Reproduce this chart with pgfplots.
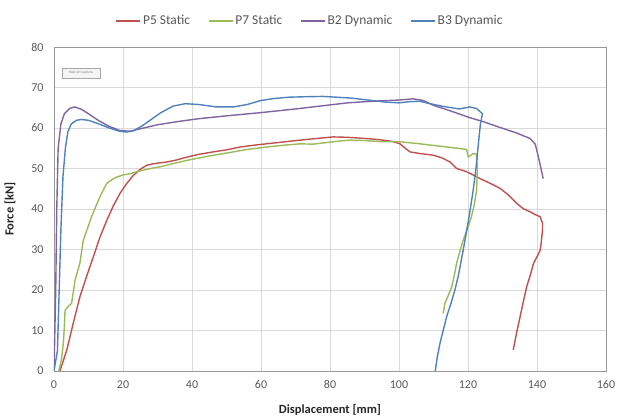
\documentclass[border=0pt]{standalone}
\usepackage{fontspec}
\setmainfont{Carlito}
\usepackage{pgfplots}
\pgfplotsset{compat=1.18}

\definecolor{pfive}{HTML}{C0504D}
\definecolor{pseven}{HTML}{9BBB59}
\definecolor{btwo}{HTML}{8064A2}
\definecolor{bthree}{HTML}{4F81BD}
\definecolor{ticktext}{HTML}{595959}
\definecolor{gridc}{HTML}{D9D9D9}

\begin{document}
\begin{tikzpicture}[x=1pt,y=1pt]
\path[use as bounding box] (0,0) rectangle (619,419);
\begin{axis}[
    at={(54pt,48pt)}, anchor=south west,
    scale only axis,
    width=552pt, height=324pt,
    xmin=0, xmax=160, ymin=0, ymax=80,
    xtick={0,20,...,160}, ytick={0,10,...,80},
    grid=major,
    major grid style={gridc, line width=0.8pt},
    axis line style={gridc!70!black, line width=0.8pt},
    major tick length=0pt,
    tick label style={font=\fontsize{12}{13}\selectfont, text=ticktext},
    xticklabel style={yshift=-6pt},
    yticklabel style={xshift=-7pt},
    /pgf/number format/assume math mode=true,
    xlabel={Displacement [mm]},
    ylabel={Force [kN]},
    every axis x label/.style={at={(axis description cs:0.5,-0.12)}, anchor=center,
        font=\bfseries\fontsize{12.5}{14}\selectfont, text=black!85},
    every axis y label/.style={at={(axis description cs:-0.0797,0.5)}, rotate=90, anchor=center,
        font=\bfseries\fontsize{12.5}{14}\selectfont, text=black!85},
    legend style={at={(0.464,1.08)}, anchor=center, draw=none,
        font=\fontsize{13.5}{14}\selectfont, text=ticktext,
        /tikz/every even column/.append style={column sep=16pt}},
    legend columns=4,
    legend image post style={xscale=1.4},
    every axis plot/.append style={line width=1.4pt},
]
\addplot[pfive] coordinates {
(1.7,0) (2.5,2) (3.7,5.2) (5.5,11.5) (7.5,18.3) (9.5,23.5) (11.4,28.2) (13.3,33)
(15.3,37.2) (17.2,40.8) (19.1,43.8) (21,46.2) (23,48.3) (25,49.8) (26.9,50.8)
(29,51.2) (32.7,51.6) (35.5,52.1) (38.5,52.8) (42,53.5) (46.2,54.1) (50,54.6)
(53.9,55.3) (57.5,55.7) (61.6,56.1) (66,56.5) (71.3,57) (76,57.4) (81,57.8)
(85,57.7) (88.7,57.5) (92,57.3) (95.4,57) (98,56.7) (100.3,56.1) (101.8,55)
(103.2,54.1) (106,53.7) (109.9,53.3) (112.5,52.6) (114.8,51.6) (116.7,50)
(119.6,49.2) (121.5,48.4) (123.5,47.5) (126.5,46.3) (129.3,45.1) (131.8,43.4)
(134.1,41.4) (136,40.1) (138,39.3) (139.5,38.6) (140.9,38.1) (141.6,36.5)
(141.6,34.8) (141.2,31.5) (140.9,29.8) (140,28.2) (139,26.6) (138,23.5)
(137,20.8) (136,17) (135.1,13.4) (134.1,9.5) (133.1,5.2)
};
\addplot[pseven] coordinates {
(1.4,0) (2.2,3) (2.7,6.8) (3.0,11) (3.2,15) (4.2,16) (5.1,16.7) (5.6,19.5)
(6.1,22.4) (6.8,24.5) (7.5,26.6) (8,29.5) (8.5,32.3) (9.7,35.2) (10.9,38.1)
(12.1,40.6) (13.3,43) (14.3,44.7) (15.3,46.3) (16.7,47.2) (18.2,47.9) (20,48.4)
(22,48.7) (24,49.2) (25.9,49.6) (28,50) (30.7,50.4) (34.5,51.2) (38.5,52)
(45,53.1) (52,54.1) (56,54.7) (61.6,55.3) (66,55.7) (71.3,56.1) (75,56)
(78,56.3) (82,56.7) (85.8,57) (90,56.9) (95.4,56.6) (100.3,56.6) (105,56.2)
(109.9,55.7) (115,55.2) (119.6,54.7) (120.1,52.8) (121.5,53.7) (122.5,53.5)
(122.7,50) (122.5,44.6) (121.8,41) (121,38.1) (119.8,35) (118.6,32.3)
(117.6,29.4) (116.7,26.6) (116,23.5) (115.3,20.8) (114.3,18.7) (113.3,16.7)
(112.8,14.2)
};
\addplot[btwo] coordinates {
(0,0) (0.5,20) (0.8,40) (1.2,55) (2,61) (3,63.5) (4.5,64.8) (6,65.2) (8,64.6)
(10,63.5) (13,61.8) (16,60.4) (19,59.4) (22,59.2) (25,59.8) (30,60.8) (36,61.6)
(42,62.3) (50,63) (60,63.8) (70,64.7) (77,65.4) (85,66.2) (92,66.6) (100,66.9)
(104,67.2) (107,66.8) (110,65.6) (115,64.2) (120,62.7) (125,61.4) (129,60.2)
(134,58.8) (138,57.4) (139.5,56) (140.5,52.5) (141.8,47.5)
};
\addplot[bthree] coordinates {
(0,0) (1,5) (1.5,20) (2,35) (2.6,48) (3.3,55) (4,59) (5,61) (6.5,61.9) (8,62.1)
(10,61.9) (13,61) (16,60) (19,59.2) (21,59) (23,59.3) (25.5,60.5) (28,62)
(31,63.8) (34.5,65.4) (38,66) (42,65.8) (47,65.2) (52,65.2) (56,65.8) (60,66.8)
(64,67.3) (68,67.6) (72,67.7) (78,67.8) (86,67.4) (92,66.8) (96,66.4) (100,66.2)
(103,66.5) (106,66.6) (109,66) (113,65.3) (117.5,64.7) (120.5,65.2) (122.5,64.8)
(124.2,63.5) (123.6,61) (123,56) (122.3,50) (121.5,44.6) (120.2,37.5)
(118.6,29.8) (117.2,23.5) (116.2,20) (115,16.5) (113.8,13.4) (112.8,10)
(111.9,6.9) (111.1,3.5) (110.5,0)
};
\legend{P5 Static, P7 Static, B2 Dynamic, B3 Dynamic}
\draw[gray!70, fill=gray!8, line width=0.5pt] (axis cs:2.3,72.4) rectangle (axis cs:13.3,74.8);
\node[font=\fontsize{3.5}{4}\selectfont, text=gray] at (axis cs:7.8,73.6) {Hide All Captions};
\end{axis}
\end{tikzpicture}
\end{document}
